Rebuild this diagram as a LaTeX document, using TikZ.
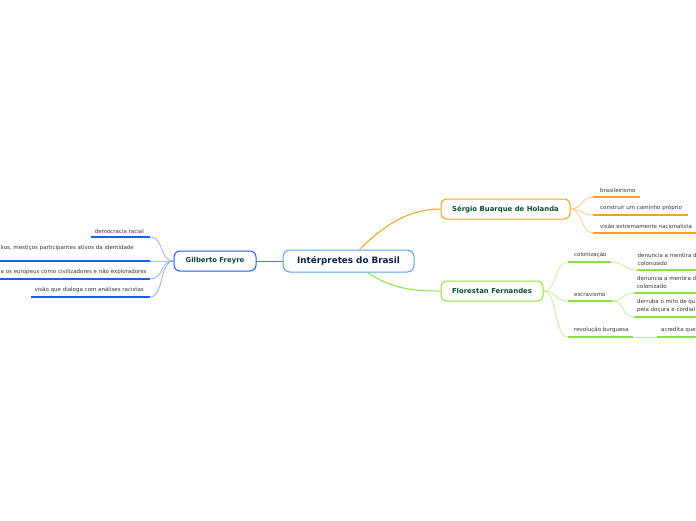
\documentclass[tikz,border=0pt]{standalone}
\usepackage{fontspec}
\setmainfont{DejaVu Sans}
\usepackage{tikz}
\definecolor{ibBorder}{HTML}{5DA3DD}
\definecolor{ibText}{HTML}{10204A}
\definecolor{gfBlue}{HTML}{1E5BF0}
\definecolor{gfLight}{HTML}{86A9F7}
\definecolor{topicText}{HTML}{0E4A36}
\definecolor{sbOrange}{HTML}{F6A21E}
\definecolor{sbLight}{HTML}{FBC67A}
\definecolor{ffGreen}{HTML}{88E43A}
\definecolor{ffLight}{HTML}{B9F08E}
\definecolor{leafText}{HTML}{333333}
\usetikzlibrary{calc}

\begin{document}
\begin{tikzpicture}[x=1pt,y=-1pt,
  topic/.style={draw, rounded corners=6pt, line width=1pt, fill=white, minimum height=20pt,
    inner sep=0pt, text=topicText, font=\fontsize{6.9}{8}\selectfont\bfseries},
  leaf/.style={inner sep=0pt, text=leafText, font=\fontsize{5.5}{8}\selectfont, align=left},
  uline/.style={line width=1.6pt},
  twig/.style={line width=0.7pt}]
  \useasboundingbox (0,0) rectangle (696,520);
  \clip (0,0) rectangle (696,520);
  % central topic
  \node[draw=ibBorder, rounded corners=7pt, line width=1pt, fill=white, minimum width=131pt, minimum height=22pt,
    inner sep=0pt, text=ibText, font=\fontsize{8.8}{10}\selectfont\bfseries] (ib) at (348.5,261) {Intérpretes do Brasil};
  % main topics
  \node[topic, draw=gfBlue, minimum width=82pt] (gf) at (215,261) {Gilberto Freyre};
  \node[topic, draw=sbOrange, minimum width=129pt] (sbh) at (505.5,209) {Sérgio Buarque de Holanda};
  \node[topic, draw=ffGreen, minimum width=102pt] (ff) at (492,291) {Florestan Fernandes};
  \draw[gfBlue!80, line width=0.8pt] (gf.east) -- (ib.west);
  \draw[sbOrange, line width=1pt] ($(ib.north)+(11,0)$) .. controls (385,224) and (410,209) .. (sbh.west);
  \draw[ffGreen, line width=1pt] ($(ib.south)+(19,0)$) .. controls (395,291) and (420,291) .. (ff.west);

  % Gilberto Freyre
  \foreach \name/\ya/\xa in {gf1/237/91, gf2/261/0, gf3/279/0, gf4/297/31} {
    \coordinate (\name a) at (\xa,\ya);
    \coordinate (\name b) at (150,\ya);
    \draw[gfBlue, uline] (\name a) -- (\name b);
    \draw[gfLight, twig] (gf.west) .. controls +(-14,0) and +(14,0) .. (\name b);
  }
  \node[leaf, anchor=south east] (gft1) at ($(gf1b)+(-6,-3)$) {democracia racial};
  \node[leaf, anchor=south west] (gft2) at ($(gf2a)+(0.5,-10)$) {lios, mestiços participantes ativos da identidade};
  \node[leaf, anchor=south west] (gft3) at ($(gf3a)+(0.5,-4)$) {a os europeus como civilizadores e não exploradores};
  \node[leaf, anchor=south east] (gft4) at ($(gf4b)+(-6,-4)$) {visão que dialoga com análises racistas};

  % Sergio Buarque de Holanda
  \foreach \name/\ya/\xb in {sb1/197/640, sb2/215/688, sb3/233/700} {
    \coordinate (\name a) at (593,\ya);
    \coordinate (\name b) at (\xb,\ya);
    \draw[sbOrange, uline] (\name a) -- (\name b);
    \draw[sbLight, twig] (sbh.east) .. controls +(12,0) and +(-12,0) .. (\name a);
  }
  \node[leaf, anchor=south west] (sbt1) at ($(sb1a)+(7,-4)$) {brasileirismo};
  \node[leaf, anchor=south west] (sbt2) at ($(sb2a)+(7,-4)$) {construir um caminho próprio};
  \node[leaf, anchor=south west] (sbt3) at ($(sb3a)+(7,-4)$) {visão extremamente nacionalista};

  % Florestan Fernandes
  \foreach \name/\ya/\xb in {ff1/262/611, ff2/301/612, ff3/337/633} {
    \coordinate (\name a) at (568,\ya);
    \coordinate (\name b) at (\xb,\ya);
    \draw[ffGreen, uline] (\name a) -- (\name b);
    \draw[ffLight, twig] (ff.east) .. controls +(14,0) and +(-14,0) .. (\name a);
  }
  \node[leaf, anchor=south west] (fft1) at ($(ff1a)+(6,-4)$) {colonização};
  \node[leaf, anchor=south west] (fft2) at ($(ff2a)+(6,-4)$) {escravismo};
  \node[leaf, anchor=south west] (fft3) at ($(ff3a)+(6,-4)$) {revolução burguesa};

  % second level
  \foreach \from/\name/\xa/\ya in {ff1b/ffg1/637/270, ff2b/ffg2/634/293, ff2b/ffg3/634/317, ff3b/ffg4/657/337} {
    \coordinate (\name a) at (\xa,\ya);
    \coordinate (\name b) at (700,\ya);
    \draw[ffGreen, uline] (\name a) -- (\name b);
    \draw[ffLight, twig] (\from) .. controls +(12,0) and +(-12,0) .. (\name a);
  }
  \node[leaf, anchor=south west] (ffgt1) at ($(ffg1a)+(0.5,-4)$) {denuncia a mentira d\\colonizado};
  \node[leaf, anchor=south west] (ffgt2) at ($(ffg2a)+(3,-4)$) {denuncia a mentira d\\colonizado};
  \node[leaf, anchor=south west] (ffgt3) at ($(ffg3a)+(3,-4)$) {derruba o mito de qu\\pela doçura e cordial};
  \node[leaf, anchor=south west] (ffgt4) at ($(ffg4a)+(4,-4)$) {acredita que};
\end{tikzpicture}
\end{document}
